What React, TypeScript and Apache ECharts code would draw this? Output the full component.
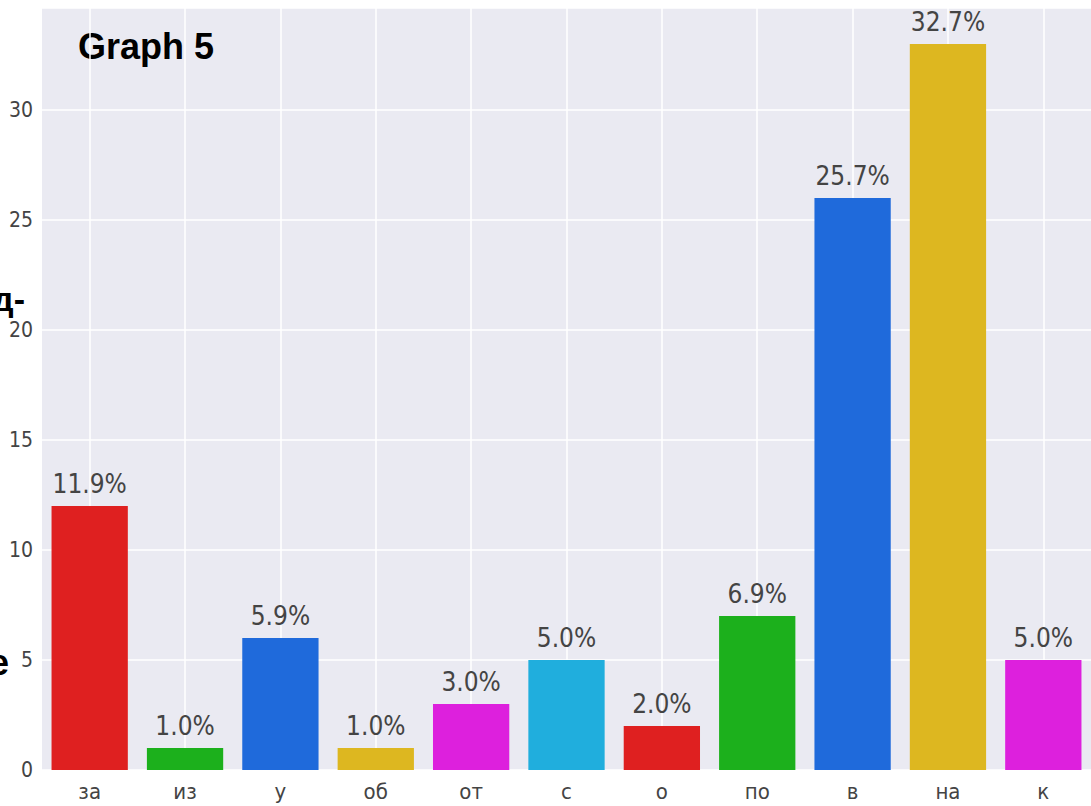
import React, { useEffect, useRef } from "react";
import * as echarts from "echarts";

const categories = ["за", "из", "у", "об", "от", "с", "о", "по", "в", "на", "к"];
const counts = [12, 1, 6, 1, 3, 5, 2, 7, 26, 33, 5];
const percentLabels = ["11.9%", "1.0%", "5.9%", "1.0%", "3.0%", "5.0%", "2.0%", "6.9%", "25.7%", "32.7%", "5.0%"];
const barColors = ["#DF2020", "#1CB01C", "#1F6ADB", "#DDB720", "#DD20DD", "#20AEDD", "#DF2020", "#1CB01C", "#1F6ADB", "#DDB720", "#DD20DD"];
const yTicks = [0, 5, 10, 15, 20, 25, 30];

const NARROW = "'DejaVu Sans Condensed', 'Liberation Sans Narrow', 'Roboto', sans-serif";
const BOLD = "'Liberation Sans', Arial, sans-serif";

export default function App() {
  const ref = useRef<HTMLDivElement>(null);
  useEffect(() => {
    if (!ref.current) return;
    const chart = echarts.init(ref.current, undefined, { renderer: "svg" });
    chart.setOption({
      animation: false,
      backgroundColor: "#ffffff",
      grid: { left: 42, right: -8, top: 8, bottom: 36, show: true, backgroundColor: "#EAEAF2", borderWidth: 0 },
      xAxis: {
        type: "category",
        data: categories,
        axisLine: { show: false },
        axisTick: { show: false },
        axisLabel: { color: "#444", fontFamily: NARROW, fontSize: 22, margin: 10 },
        splitLine: { show: true, alignWithLabel: true, lineStyle: { color: "#ffffff", width: 1.5 } },
      },
      yAxis: {
        type: "value",
        min: 0,
        max: 34.64,
        interval: 5,
        axisLine: { show: false },
        axisTick: { show: false },
        axisLabel: {
          color: "#444",
          fontFamily: NARROW,
          fontSize: 21,
          margin: 9,
          formatter: (v: number) => (yTicks.indexOf(v) >= 0 ? String(v) : ""),
        },
        splitLine: { show: true, lineStyle: { color: "#ffffff", width: 1.5 } },
      },
      series: [
        {
          type: "bar",
          barCategoryGap: "20%",
          data: counts.map((c, i) => ({ value: c, itemStyle: { color: barColors[i] } })),
          label: {
            show: true,
            position: "top",
            distance: 9,
            color: "#444",
            fontFamily: NARROW,
            fontSize: 26,
            formatter: (p: any) => percentLabels[p.dataIndex],
          },
        },
      ],
      graphic: [
        {
          type: "text",
          left: 78,
          top: 28,
          style: { text: "Graph 5", fontFamily: BOLD, fontWeight: "bold", fontSize: 36, fill: "#000" },
        },
        {
          type: "text",
          x: 25,
          y: 299,
          style: { text: "д-", align: "right", verticalAlign: "middle", fontFamily: BOLD, fontWeight: "bold", fontSize: 34, fill: "#000" },
        },
        {
          type: "text",
          x: 9,
          y: 662,
          style: { text: "е", align: "right", verticalAlign: "middle", fontFamily: BOLD, fontWeight: "bold", fontSize: 36, fill: "#000" },
        },
      ],
    });
    return () => chart.dispose();
  }, []);
  return <div ref={ref} style={{ position: "absolute", left: 0, top: 0, width: 1091, height: 806 }} />;
}
